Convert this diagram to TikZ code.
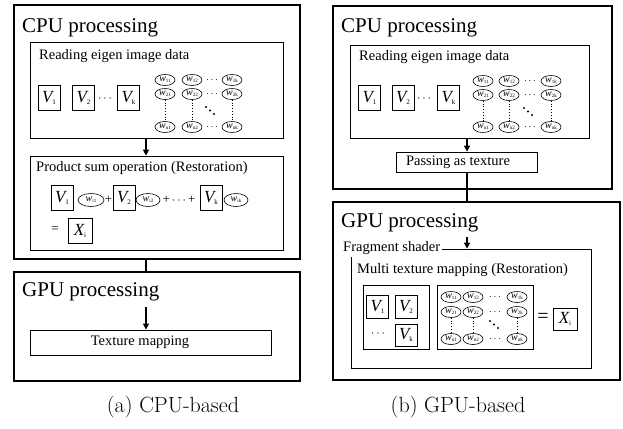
\documentclass[tikz,border=0pt]{standalone}
\usepackage{fontspec}
\newfontfamily\tms{Liberation Serif}
\usetikzlibrary{shapes.geometric,arrows.meta,fit,calc}
\newcommand\Vs[1]{{\tms\itshape V}\raisebox{-2pt}{\fontsize{7}{7}\selectfont #1}}
\newcommand\Xs[1]{{\tms\itshape X}\raisebox{-2pt}{\fontsize{7}{7}\selectfont #1}}
\newcommand\ws[1]{{\tms\itshape w}\raisebox{-1.2pt}{\fontsize{5}{5}\selectfont #1}}
\begin{document}
\begin{tikzpicture}[x=1pt,y=-1pt,
  every node/.style={inner sep=0pt},
  obox/.style={draw, line width=1.3pt, inner sep=0pt},
  ibox/.style={draw, line width=0.8pt, inner sep=0pt},
  vbox/.style={draw, line width=0.8pt, minimum width=22pt, minimum height=25pt, inner sep=0pt, font=\tms\fontsize{17}{17}\selectfont},
  wnode/.style={ellipse, draw, line width=0.6pt, minimum width=20pt, minimum height=11pt, inner sep=0pt, font=\tms\fontsize{10}{10}\selectfont},
  pwnode/.style={wnode, minimum width=26pt, minimum height=13pt},
  ttl/.style={anchor=west, font=\tms\fontsize{21}{24}\selectfont},
  lbl/.style={anchor=west, font=\tms\fontsize{14.5}{17}\selectfont},
  txt/.style={font=\tms\fontsize{14.5}{17}\selectfont},
  sym/.style={font=\tms\fontsize{13}{14}\selectfont},
  captxt/.style={font=\fontsize{22}{26}\selectfont},
  conn/.style={line width=1.8pt},
  arr/.style={line width=1.8pt, -{Triangle[length=6pt,width=6pt]}},
  dotv/.style={dotted, line width=0.8pt}
]
\useasboundingbox (0,0) rectangle (623,428);

% ================= (a) CPU-based =================
\node[obox, fit={(14,5) (300,259)}] (cpuA) {};
\node[ttl] (cpuAt) at (22,28) {CPU processing};
\node[ibox, fit={(30,42) (283,138)}] (readA) {};
\node[lbl] (readAt) at (39,56) {Reading eigen image data};
\node[vbox] (vA1) at (49,98) {\Vs{1}};
\node[vbox] (vA2) at (83.5,98) {\Vs{2}};
\node[sym] (vAd) at (105,99) {$\cdots$};
\node[vbox] (vAk) at (128.5,98) {\Vs{k}};
\foreach \r/\y/\rs in {1/80/1,2/94/2,3/127/n} {
  \foreach \c/\x/\cs in {1/165/1,2/192/2,3/232/k} {
    \node[wnode] (gA-\r-\c) at (\x,\y) {\ws{\rs\cs}};
  }
  \node (gA-\r-d) at (212,\y) {$\cdots$};
}
\foreach \c in {1,2,3} \draw[dotv] (gA-2-\c) -- (gA-3-\c);
\foreach \i in {0,1,2} \fill (206+4*\i,107+3.5*\i) circle (1.1pt);

\node[ibox, fit={(30,156) (283,250)}] (prodA) {};
\node[lbl] (prodAt) at (36,168) {Product sum operation (Restoration)};
\node[vbox] (pA1) at (62,197.5) {\Vs{1}};
\node[pwnode] (pwA1) at (91,200) {\ws{i1}};
\node[sym] (plA1) at (108.5,200) {+};
\node[vbox] (pA2) at (124,197.5) {\Vs{2}};
\node[pwnode, minimum width=24pt] (pwA2) at (148,200) {\ws{i2}};
\node[sym] (plA2) at (179,200) {+\,$\cdots$\,+};
\node[vbox] (pAk) at (211,197.5) {\Vs{k}};
\node[pwnode, minimum width=24pt] (pwAk) at (236,200) {\ws{ik}};
\node[sym] (eqA) at (55,230) {=};
\node[vbox, minimum width=24pt] (xA) at (80,230.5) {\Xs{i}};

\draw[arr] (146,0 |- readA.south) -- (146,0 |- prodA.north);

\node[obox, fit={(14,272) (300,381)}] (gpuA) {};
\draw[conn] (146,0 |- cpuA.south) -- (146,0 |- gpuA.north);
\node[ttl] (gpuAt) at (22,292) {GPU processing};
\node[ibox, fit={(30,330) (271,355)}] (texA) {};
\node[txt] (texAt) at (140,342.5) {Texture mapping};
\coordinate (aA) at (146,307);
\draw[arr] (aA) -- (146,0 |- texA.north);

\node[captxt] (capA) at (173,407) {(a) CPU-based};

% ================= (b) GPU-based =================
\node[obox, fit={(333,6) (612,189)}] (cpuB) {};
\node[ttl] (cpuBt) at (341,28) {CPU processing};
\node[ibox, fit={(350,45) (589,138)}] (readB) {};
\node[lbl] (readBt) at (359,57) {Reading eigen image data};
\node[vbox] (vB1) at (369.5,98) {\Vs{1}};
\node[vbox] (vB2) at (403,98) {\Vs{2}};
\node[sym] (vBd) at (424,99) {$\cdots$};
\node[vbox] (vBk) at (448.5,98) {\Vs{k}};
\foreach \r/\y/\rs in {1/81/1,2/95/2,3/127/n} {
  \foreach \c/\x/\cs in {1/483/1,2/509/2,3/551/k} {
    \node[wnode] (gB-\r-\c) at (\x,\y) {\ws{\rs\cs}};
  }
  \node (gB-\r-d) at (530,\y) {$\cdots$};
}
\foreach \c in {1,2,3} \draw[dotv] (gB-2-\c) -- (gB-3-\c);
\foreach \i in {0,1,2} \fill (524+4*\i,108+3.5*\i) circle (1.1pt);

\node[ibox, fit={(396,152) (537,172)}] (passB) {};
\node[txt] (passBt) at (458,162) {Passing as texture};
\draw[arr] (467,0 |- readB.south) -- (467,0 |- passB.north);

\node[obox, fit={(333,202) (620,380)}] (gpuB) {};
\draw[conn] (467,0 |- passB.south) -- (467,0 |- gpuB.north);
\node[ttl] (gpuBt) at (341,223) {GPU processing};

\node[ibox, fit={(351,249) (591,368)}] (frag) {};
\node[lbl, fill=white, inner sep=2pt] (fragt) at (341,248) {Fragment shader};
\coordinate (aB) at (467,237);
\draw[arr] (aB) -- (467,0 |- frag.north);

\node[lbl] (multit) at (357,270) {Multi texture mapping (Restoration)};
\node[ibox, fit={(363,285) (429,349)}] (vpan) {};
\node[vbox, minimum height=23pt] (mV1) at (377.5,307) {\Vs{1}};
\node[vbox, minimum height=23pt] (mV2) at (406,307) {\Vs{2}};
\node[sym] (mVd) at (378,334) {$\cdots$};
\node[vbox, minimum height=22pt] (mVk) at (406,335) {\Vs{k}};

\node[ibox, fit={(437,285) (533,349)}] (wpan) {};
\foreach \r/\y/\rs in {1/297/1,2/312/2,3/339/n} {
  \foreach \c/\x/\cs in {1/451/1,2/473/2,3/517/k} {
    \node[wnode] (gC-\r-\c) at (\x,\y) {\ws{\rs\cs}};
  }
  \node (gC-\r-d) at (495,\y) {$\cdots$};
}
\foreach \c in {1,2,3} \draw[dotv] (gC-2-\c) -- (gC-3-\c);
\foreach \i in {0,1,2} \fill (490+4*\i,321+3.5*\i) circle (1.1pt);

\node[font=\tms\fontsize{20}{20}\selectfont] (eqB) at (543,318) {=};
\node[vbox, minimum width=24pt, minimum height=22pt] (xB) at (565,319) {\Xs{i}};

\node[captxt] (capB) at (458,407) {(b) GPU-based};
\end{tikzpicture}
\end{document}
